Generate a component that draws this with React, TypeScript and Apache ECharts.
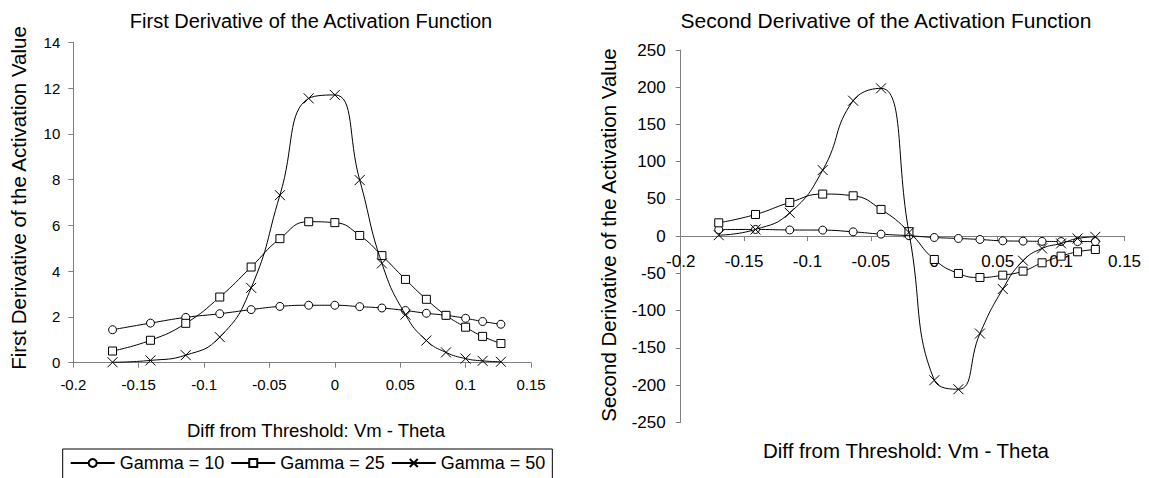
import React, { useEffect, useRef } from "react";
import * as echarts from "echarts";

// Shared x positions (Diff from Threshold: Vm - Theta)
const xValues = [-0.17, -0.141, -0.114, -0.088, -0.064, -0.042, -0.02, 0.0, 0.019, 0.036, 0.054, 0.07, 0.085, 0.1, 0.113, 0.127];

// First derivative of the activation function
const firstG10 = [1.44, 1.73, 1.98, 2.14, 2.32, 2.46, 2.51, 2.51, 2.45, 2.39, 2.28, 2.16, 2.07, 1.94, 1.8, 1.68];
const firstG25 = [0.51, 0.98, 1.72, 2.87, 4.18, 5.42, 6.16, 6.12, 5.56, 4.68, 3.64, 2.77, 2.07, 1.55, 1.15, 0.84];
const firstG50 = [0.02, 0.1, 0.33, 1.12, 3.27, 7.32, 11.55, 11.7, 7.98, 4.34, 2.1, 0.97, 0.45, 0.18, 0.08, 0.04];

// Second derivative of the activation function
const secondG10 = [8.8, 9.0, 8.3, 8.1, 5.8, 2.7, 0.6, -1.8, -3.1, -4.5, -6.3, -6.7, -7.0, -7.2, -7.3, -7.2];
const secondG25 = [17.9, 29.1, 45.2, 56.5, 54.2, 35.9, 6.0, -31.3, -50.1, -55.5, -52.4, -47.0, -35.8, -26.9, -21.0, -17.9];
const secondG50 = [1.3, 9.0, 31.3, 88.7, 181.9, 198.5, 5.0, -193.5, -205.6, -130.8, -71.0, -33.0, -16.5, -9.8, -3.1, -0.9];

const seriesNames = ["Gamma = 10", "Gamma = 25", "Gamma = 50"];
const titles = ["First Derivative of the Activation Function", "Second Derivative of the Activation Function"];
const yTitles = ["First Derivative of the Activation Value", "Second Derivative of the Activation Value"];
const xTitle = "Diff from Threshold: Vm - Theta";

const FONT = "'Liberation Sans', Arial, sans-serif";
const X_SYMBOL = "path://M0,0L10,10M10,0L0,10";
const symbols = ["circle", "rect", X_SYMBOL];
const symbolSizes = [8, 8, 10];

const pair = (ys: number[]) => xValues.map((x, i) => [x, ys[i]]);

export default function App() {
  const ref = useRef<HTMLDivElement>(null);
  useEffect(() => {
    const chart = echarts.init(ref.current!, null, { renderer: "svg" });
    const lineStyle = { color: "#808080", width: 1 };
    const axisTick = { show: true, lineStyle, length: 5 };
    const fmt = (v: number) => String(Math.round(v * 100) / 100);
    const mkX = (gridIndex: number, margin: number, fontSize: number, offset: number) => ({
      type: "value",
      gridIndex,
      min: -0.2,
      max: 0.15,
      interval: 0.05,
      offset,
      splitLine: { show: false },
      axisLine: { show: true, lineStyle, onZero: false },
      axisTick,
      axisLabel: { formatter: fmt, color: "#000", fontSize, fontFamily: FONT, margin, showMinLabel: true, showMaxLabel: true },
    });
    const mkY = (gridIndex: number, min: number, max: number, interval: number, margin: number, fontSize: number) => ({
      type: "value",
      gridIndex,
      min,
      max,
      interval,
      splitLine: { show: false },
      axisLine: { show: true, lineStyle, onZero: false },
      axisTick,
      axisLabel: { color: "#000", fontSize, fontFamily: FONT, margin },
    });
    const groups = [
      [firstG10, firstG25, firstG50],
      [secondG10, secondG25, secondG50],
    ];
    const series: any[] = [];
    groups.forEach((g, gi) => {
      g.forEach((ys, si) => {
        series.push({
          type: "line",
          name: seriesNames[si],
          xAxisIndex: gi,
          yAxisIndex: gi,
          data: pair(ys),
          smooth: 0.5,
          symbol: symbols[si],
          symbolSize: symbolSizes[si],
          showSymbol: true,
          lineStyle: { color: "#000", width: 1 },
          itemStyle: { color: si === 2 ? "rgba(0,0,0,0)" : "#fff", borderColor: "#000", borderWidth: 1 },
          z: 2 + si,
        });
      });
    });
    const txt = (text: string, x: number, y: number, size: number, rot = 0) => ({
      type: "text",
      x,
      y,
      rotation: rot,
      style: { text, fill: "#000", fontSize: size, fontFamily: FONT, textAlign: "center", textVerticalAlign: "middle" },
    });
    // right grid: top 50, bottom edge at 422.3 -> y = 0 sits in the middle
    const rightTop = 50;
    const rightBottomEdge = 422.3;
    const rightZeroOffset = -((rightBottomEdge - rightTop) / 2);
    chart.setOption({
      animation: false,
      backgroundColor: "#fff",
      grid: [
        { left: 73.3, right: 618, top: 42.3, bottom: 115.3 },
        { left: 680.7, right: 24.5, top: rightTop, bottom: 478 - rightBottomEdge },
      ],
      xAxis: [mkX(0, 14, 15, 0), mkX(1, 17, 17, rightZeroOffset)],
      yAxis: [mkY(0, 0, 14, 2, 13, 15), mkY(1, -250, 250, 50, 15, 17)],
      legend: {
        data: seriesNames,
        left: 62.7,
        top: 449,
        orient: "horizontal",
        borderColor: "#000",
        borderWidth: 1,
        padding: [5, 7, 12, 7],
        itemGap: 6,
        itemWidth: 44,
        itemHeight: 10,
        textStyle: { color: "#000", fontSize: 18, fontFamily: FONT },
      },
      graphic: [
        txt(titles[0], 311, 21, 20),
        txt(titles[1], 886, 20, 21),
        txt(yTitles[0], 18, 198, 20.5, Math.PI / 2),
        txt(yTitles[1], 608, 235, 20.5, Math.PI / 2),
        txt(xTitle, 316, 430, 18.5),
        txt(xTitle, 906, 450, 20.5),
      ],
      series,
    });
    return () => chart.dispose();
  }, []);
  return <div ref={ref} style={{ position: "fixed", left: 0, top: 0, width: 1149, height: 478, background: "#fff" }} />;
}
